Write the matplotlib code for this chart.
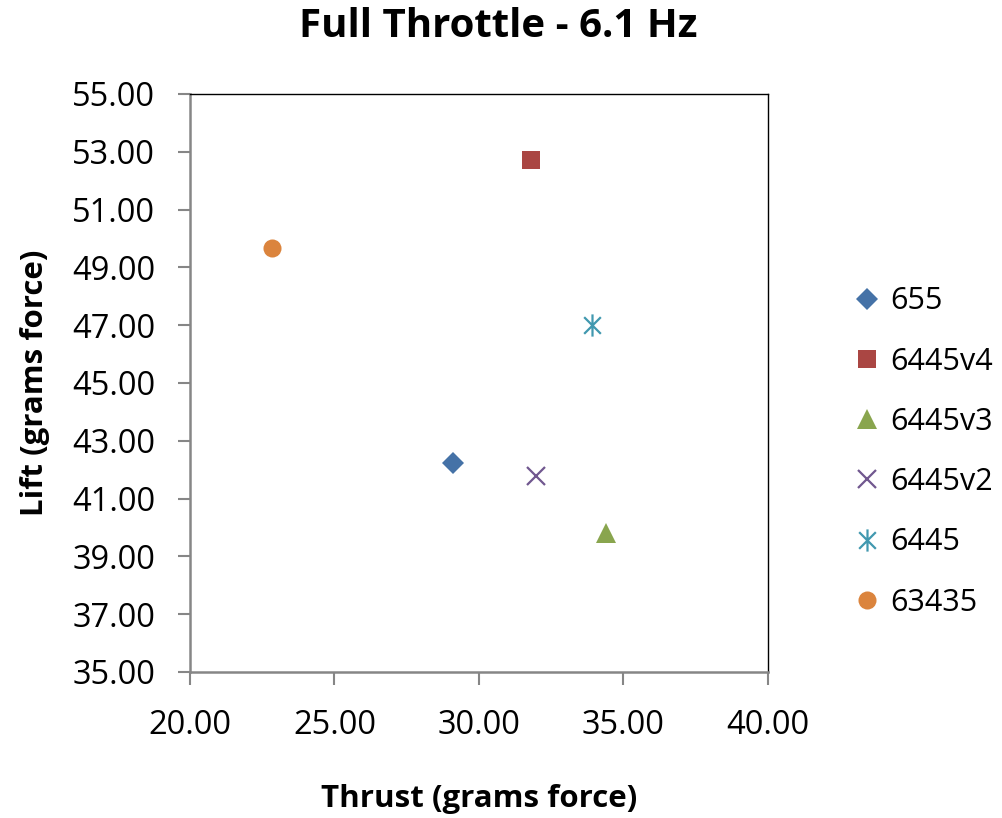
import matplotlib
matplotlib.use("Agg")
import matplotlib.pyplot as plt
from matplotlib.path import Path

plt.rcParams['font.family'] = ['Open Sans', 'DejaVu Sans']

# thrust vs lift at full throttle, one point per propeller
names = ['655', '6445v4', '6445v3', '6445v2', '6445', '63435']
thrust = [29.11, 31.81, 34.41, 31.97, 33.91, 22.85]
lift = [42.24, 52.72, 39.80, 41.79, 47.01, 49.67]
colors = ['#4572A7', '#AA4643', '#89A54E', '#71588F', '#4198AF', '#DB843D']

# asterisk: vertical bar plus an x
star = Path([(0, -1), (0, 1), (-0.75, -0.75), (0.75, 0.75), (-0.75, 0.75), (0.75, -0.75)],
            [Path.MOVETO, Path.LINETO, Path.MOVETO, Path.LINETO, Path.MOVETO, Path.LINETO])
markers = ['D', 's', '^', 'x', star, 'o']
msizes = [11, 12.5, 14, 13, 16, 13]

fig = plt.figure(figsize=(10.03, 8.18), dpi=100)
ax = fig.add_axes([0.1894, 0.1785, 0.5763, 0.7066])

for n, x, y, c, m, s in zip(names, thrust, lift, colors, markers, msizes):
    ax.plot([x], [y], linestyle='none', marker=m, markersize=s, color=c,
            markeredgewidth=1.6 if m in ('x', star) else 0, label=n)

ax.set_xlim(20, 40)
ax.set_ylim(35, 55)
ax.set_xticks([20, 25, 30, 35, 40])
ax.set_yticks(range(35, 56, 2))
ax.set_xticklabels(['%.2f' % v for v in [20, 25, 30, 35, 40]])
ax.set_yticklabels(['%.2f' % v for v in range(35, 56, 2)])
ax.tick_params(labelsize=23.5, direction='out', length=9, width=1.5, color='#868686', pad=16)
ax.tick_params(axis='x', pad=18)

for side in ('left', 'bottom'):
    ax.spines[side].set_color('#868686')
    ax.spines[side].set_linewidth(1.8)
for side in ('top', 'right'):
    ax.spines[side].set_color('black')
    ax.spines[side].set_linewidth(1.0)

fig.suptitle('Full Throttle - 6.1 Hz', fontsize=29, fontweight='bold', x=0.497, y=0.967, va='center')
ax.set_xlabel('Thrust (grams force)', fontsize=22.5, fontweight='bold', labelpad=30)
ax.set_ylabel('Lift (grams force)', fontsize=22.5, fontweight='bold', labelpad=16)

fig.legend(loc='upper left', bbox_to_anchor=(0.84, 0.665), frameon=False,
           fontsize=22, labelspacing=0.99, handlelength=0.8, handletextpad=0.35,
           borderaxespad=0)

fig.savefig('out.png', dpi=100)
